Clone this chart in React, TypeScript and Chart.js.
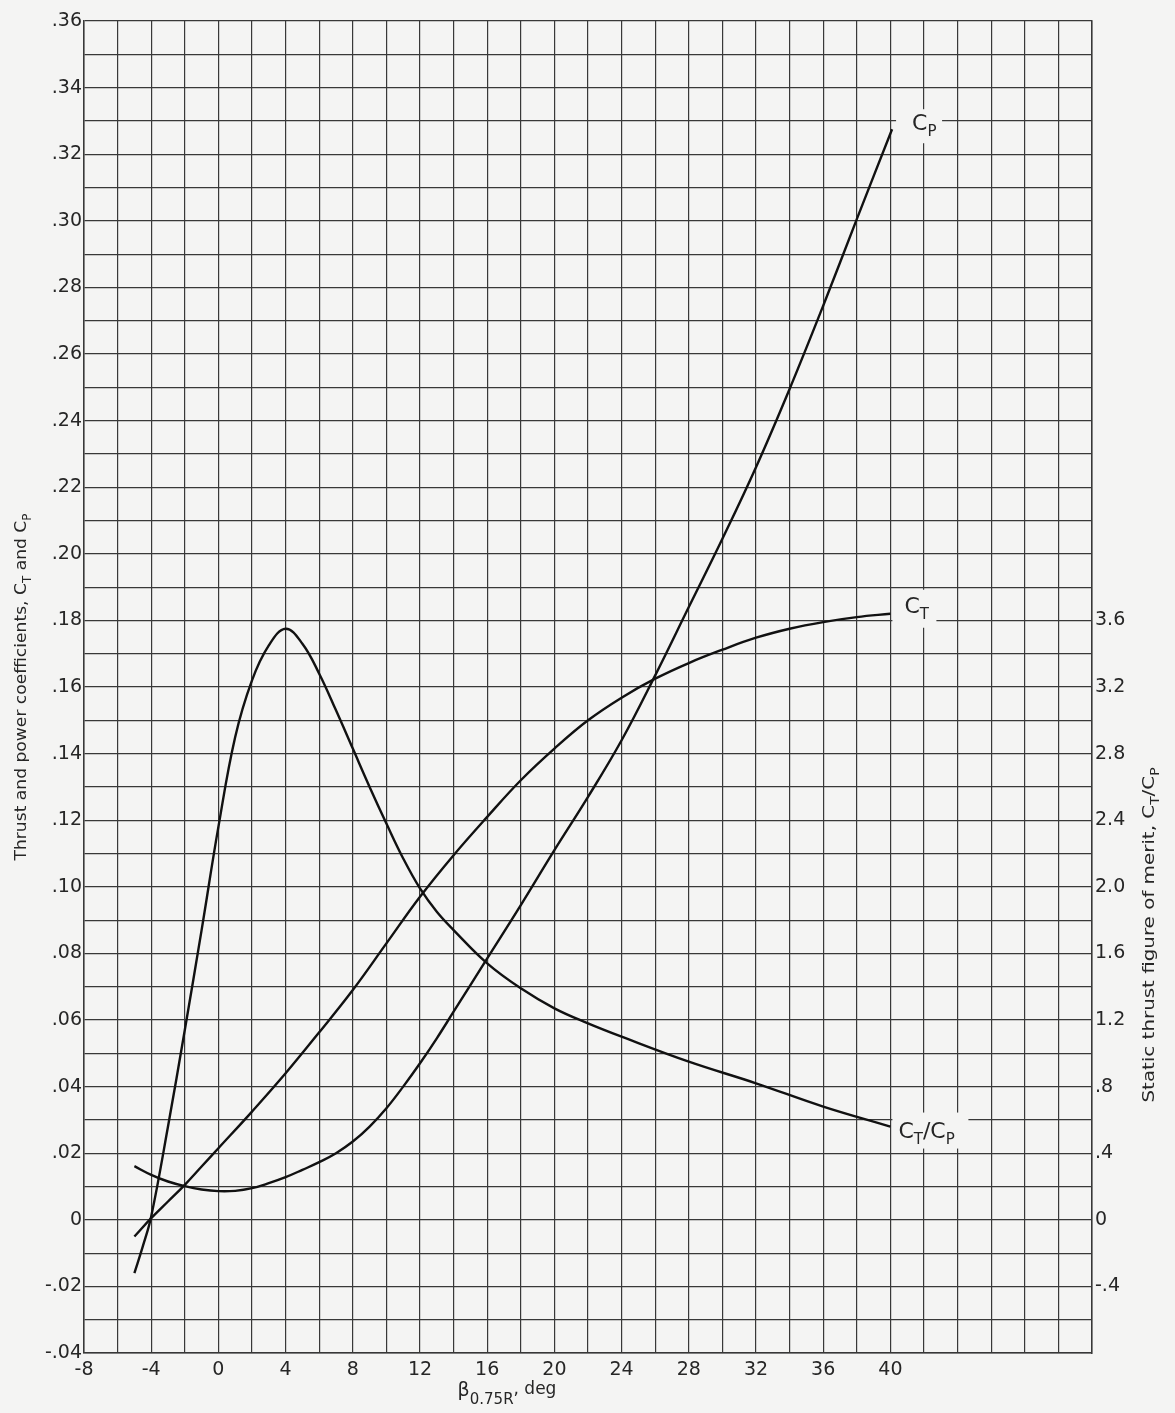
import React, { useEffect, useRef } from "react";
import { Chart, registerables } from "chart.js";

Chart.register(...registerables);

// ---- data ----
// Thrust coefficient C_T (left axis)
const ctBeta = [-5, -4, -3, -2, -1, 0, 2, 4, 6, 8, 10, 12, 14, 16, 18, 20, 22, 24, 26, 28, 30, 32, 34, 36, 38, 40];
const ctValues = [-0.005, 0.0005, 0.0055, 0.0105, 0.016, 0.0215, 0.0325, 0.044, 0.0563, 0.069, 0.083, 0.097, 0.1095, 0.121, 0.132, 0.1415, 0.15, 0.1568, 0.1625, 0.1672, 0.1712, 0.1748, 0.1775, 0.1795, 0.181, 0.182];

// Power coefficient C_P (left axis)
const cpBeta = [-5, -4, -3, -2, -1, 0, 1, 2, 3, 4, 5, 6, 7, 8, 9, 10, 11, 12, 13, 14, 16, 18, 20, 22, 24, 26, 28, 30, 32, 34, 36, 38, 40.1];
const cpValues = [0.0161, 0.0135, 0.0115, 0.0101, 0.0091, 0.0086, 0.0087, 0.0095, 0.011, 0.0128, 0.015, 0.0173, 0.02, 0.0235, 0.028, 0.0335, 0.04, 0.047, 0.0545, 0.0625, 0.0785, 0.0945, 0.111, 0.127, 0.144, 0.1635, 0.184, 0.2045, 0.226, 0.2495, 0.2745, 0.3005, 0.3275];

// Static thrust figure of merit C_T/C_P (right axis)
const meritBeta = [-5, -4.5, -4, -3, -2, -1, 0, 1, 2, 3, 4, 5, 6, 7, 8, 9, 10, 11, 12, 13, 14, 16, 18, 20, 22, 24, 28, 32, 36, 40];
const meritValues = [-0.32, -0.16, 0.02, 0.56, 1.14, 1.74, 2.36, 2.9, 3.24, 3.45, 3.55, 3.46, 3.28, 3.06, 2.83, 2.6, 2.38, 2.17, 1.99, 1.85, 1.74, 1.54, 1.39, 1.27, 1.18, 1.1, 0.95, 0.82, 0.68, 0.56];

// tick labels
const xTickLabels = ["-8", "-4", "0", "4", "8", "12", "16", "20", "24", "28", "32", "36", "40"];
const leftTickLabels = ["-.04", "-.02", "0", ".02", ".04", ".06", ".08", ".10", ".12", ".14", ".16", ".18", ".20", ".22", ".24", ".26", ".28", ".30", ".32", ".34", ".36"];
const rightTickLabels = ["-.4", "0", ".4", ".8", "1.2", "1.6", "2.0", "2.4", "2.8", "3.2", "3.6"];

const BG = "#f4f4f3";
const GRID = "#383838";
const INK = "#111111";
const TEXT = "#262626";
const FAMILY = "'DejaVu Sans', sans-serif";

type Part = [string, boolean];

function richWidth(ctx: CanvasRenderingContext2D, parts: Part[], size: number, subSize: number) {
  return parts.map(([t, sub]) => {
    ctx.font = `${sub ? subSize : size}px ${FAMILY}`;
    return ctx.measureText(t).width;
  });
}

function drawRich(ctx: CanvasRenderingContext2D, parts: Part[], x: number, y: number, align: "left" | "center", size: number, subSize: number, targetLen?: number) {
  const widths = richWidth(ctx, parts, size, subSize);
  const total = widths.reduce((a, b) => a + b, 0);
  const sx = targetLen ? targetLen / total : 1;
  ctx.save();
  ctx.translate(x, y);
  ctx.scale(sx, 1);
  let cx = align === "center" ? -total / 2 : 0;
  ctx.textBaseline = "alphabetic";
  ctx.textAlign = "left";
  parts.forEach(([t, sub], i) => {
    ctx.font = `${sub ? subSize : size}px ${FAMILY}`;
    ctx.fillText(t, cx, sub ? size * 0.28 : 0);
    cx += widths[i];
  });
  ctx.restore();
  return total * sx;
}

const curveLabels = [
  { parts: [["C", false], ["P", true]] as Part[], series: 1, dx: 20, dy: 1, box: [4, -20, 46, 34] },
  { parts: [["C", false], ["T", true]] as Part[], series: 0, dx: 14, dy: -1, box: [2, -24, 44, 38] },
  { parts: [["C", false], ["T", true], ["/C", false], ["P", true]] as Part[], series: 2, dx: 8, dy: 11, box: [2, -14, 76, 36] },
];

const annotationPlugin = {
  id: "annotations",
  beforeDraw(chart: any) {
    const ctx = chart.ctx as CanvasRenderingContext2D;
    ctx.save();
    ctx.fillStyle = BG;
    ctx.fillRect(0, 0, chart.width, chart.height);
    ctx.restore();
  },
  afterDatasetsDraw(chart: any) {
    const ctx = chart.ctx as CanvasRenderingContext2D;
    ctx.save();
    curveLabels.forEach((lab) => {
      const ds = chart.data.datasets[lab.series];
      const last = ds.data[ds.data.length - 1];
      const xs = chart.scales.x;
      const ys = chart.scales[ds.yAxisID];
      const px = xs.getPixelForValue(last.x);
      const py = ys.getPixelForValue(last.y);
      ctx.fillStyle = BG;
      ctx.fillRect(px + lab.box[0], py + lab.box[1], lab.box[2], lab.box[3]);
      ctx.fillStyle = TEXT;
      drawRich(ctx, lab.parts, px + lab.dx, py + lab.dy, "left", 22, 15);
    });

    // axis titles
    ctx.fillStyle = TEXT;
    // left
    ctx.save();
    ctx.translate(26, 687);
    ctx.rotate(-Math.PI / 2);
    drawRich(ctx, [["Thrust and power coefficients, C", false], ["T", true], [" and C", false], ["P", true]], 0, 0, "center", 16.5, 11.5, 347);
    ctx.restore();
    // right
    ctx.save();
    ctx.translate(1154, 935);
    ctx.rotate(-Math.PI / 2);
    drawRich(ctx, [["Static thrust figure of merit, C", false], ["T", true], ["/C", false], ["P", true]], 0, 0, "center", 16.5, 11.5, 335);
    ctx.restore();
    // bottom
    ctx.save();
    ctx.font = `19px ${FAMILY}`;
    const w1 = ctx.measureText("\u03b2").width;
    ctx.font = `15px ${FAMILY}`;
    const w2 = ctx.measureText("0.75R").width;
    ctx.font = `17px ${FAMILY}`;
    const w3 = ctx.measureText(", deg").width;
    let bx = 507 - (w1 + w2 + w3) / 2;
    ctx.textBaseline = "alphabetic";
    ctx.textAlign = "left";
    ctx.font = `19px ${FAMILY}`;
    ctx.fillText("\u03b2", bx, 1396);
    bx += w1;
    ctx.font = `15px ${FAMILY}`;
    ctx.fillText("0.75R", bx, 1404);
    bx += w2;
    ctx.font = `17px ${FAMILY}`;
    ctx.fillText(", deg", bx, 1394);
    ctx.restore();
    ctx.restore();
  },
};

function fmtLeft(v: number): string {
  const k = Math.round(v * 100);
  if (k % 2 !== 0) return "";
  return leftTickLabels[(k + 4) / 2] ?? "";
}

function fmtRight(v: number): string {
  const k = Math.round(v * 10);
  if (k % 4 !== 0) return "";
  return rightTickLabels[(k + 4) / 4] ?? "";
}

function fmtX(v: number): string {
  const k = Math.round(v);
  if (k % 4 !== 0) return "";
  return xTickLabels[(k + 8) / 4] ?? "";
}

export default function App() {
  const ref = useRef<HTMLCanvasElement | null>(null);
  useEffect(() => {
    if (!ref.current) return;
    const toXY = (xs: number[], ys: number[]) => xs.map((x, i) => ({ x, y: ys[i] }));
    const common = {
      borderColor: INK,
      borderWidth: 2.4,
      pointRadius: 0,
      fill: false,
      tension: 0.4,
    };
    const chart = new Chart(ref.current, {
      type: "line",
      data: {
        datasets: [
          { ...common, label: "CT", data: toXY(ctBeta, ctValues), yAxisID: "y" },
          { ...common, label: "CP", data: toXY(cpBeta, cpValues), yAxisID: "y" },
          { ...common, label: "CT/CP", data: toXY(meritBeta, meritValues), yAxisID: "y1" },
        ],
      },
      options: {
        responsive: false,
        animation: false,
        layout: { padding: { top: 21, left: 0, right: 0, bottom: 0 } },
        plugins: { legend: { display: false }, tooltip: { enabled: false } },
        scales: {
          x: {
            type: "linear",
            position: "bottom",
            min: -8,
            max: 52,
            afterFit: (s: any) => { s.height = 60; },
            ticks: {
              stepSize: 2,
              autoSkip: false,
              maxRotation: 0,
              padding: 6,
              color: TEXT,
              font: { family: FAMILY, size: 19 },
              callback: (v: any) => fmtX(Number(v)),
            },
            grid: { color: GRID, lineWidth: 1.2, drawTicks: false },
            border: { color: GRID, width: 1.5 },
          },
          y: {
            type: "linear",
            position: "left",
            min: -0.04,
            max: 0.36,
            afterFit: (s: any) => { s.width = 84; },
            ticks: {
              stepSize: 0.01,
              autoSkip: false,
              padding: 2,
              color: TEXT,
              font: { family: FAMILY, size: 19 },
              callback: (v: any) => fmtLeft(Number(v)),
            },
            grid: { color: GRID, lineWidth: 1.2, drawTicks: false },
            border: { color: GRID, width: 1.5 },
          },
          y1: {
            type: "linear",
            position: "right",
            min: -0.8,
            max: 7.2,
            afterFit: (s: any) => { s.width = 83; },
            ticks: {
              stepSize: 0.4,
              autoSkip: false,
              padding: 3,
              color: TEXT,
              font: { family: FAMILY, size: 19 },
              callback: (v: any) => fmtRight(Number(v)),
            },
            grid: { display: false, drawTicks: false },
            border: { color: GRID, width: 1.5 },
          },
        },
      },
      plugins: [annotationPlugin],
    });
    return () => chart.destroy();
  }, []);

  return (
    <div style={{ position: "fixed", left: 0, top: 0, width: 1175, height: 1413, background: BG }}>
      <canvas ref={ref} width={1175} height={1413} style={{ display: "block", width: 1175, height: 1413 }} />
    </div>
  );
}
